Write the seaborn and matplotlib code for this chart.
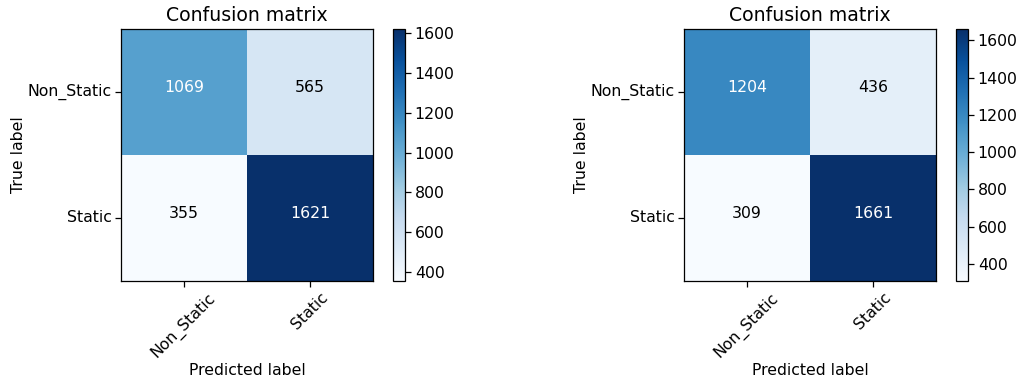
import numpy as np
import pandas as pd
import matplotlib
matplotlib.use("Agg")
import matplotlib.pyplot as plt
import seaborn as sns

classes = ["Non_Static", "Static"]
cm_left = [[1069, 565], [355, 1621]]
cm_right = [[1204, 436], [309, 1661]]
cbar_ticks = [400, 600, 800, 1000, 1200, 1400, 1600]

FS = 11.3
plt.rcParams['font.family'] = ['DejaVu Sans']
plt.rcParams['font.size'] = FS

fig = plt.figure(figsize=(10.21, 3.83), dpi=100)
W, H = 1021, 383

def px(x0, y0, x1, y1):
    return [x0 / W, 1 - y1 / H, (x1 - x0) / W, (y1 - y0) / H]

layouts = [
    (px(121, 29, 373, 281), px(393, 29, 405, 281), cm_left),
    (px(684, 29, 936, 281), px(956, 29, 968, 281), cm_right),
]

for ax_pos, cb_pos, cm in layouts:
    ax = fig.add_axes(ax_pos)
    cax = fig.add_axes(cb_pos)
    df = pd.DataFrame(cm, index=classes, columns=classes)
    arr = np.array(cm)
    sns.heatmap(df, ax=ax, cbar_ax=cax, cmap="Blues", annot=True, fmt="d",
                annot_kws={"fontsize": FS}, square=False,
                vmin=arr.min(), vmax=arr.max(), linewidths=0)
    thresh = arr.max() / 2.0
    for t in ax.texts:
        v = int(t.get_text())
        t.set_color("white" if v > thresh else "black")
        t.set_va("baseline")
    for s in ax.spines.values():
        s.set_visible(True)
        s.set_linewidth(0.9)
        s.set_color("black")
    ax.set_title("Confusion matrix", fontsize=13.6, pad=6)
    ax.set_xlabel("Predicted label", fontsize=FS, labelpad=1.5)
    ax.set_ylabel("True label", fontsize=FS, labelpad=1)
    ax.set_xticklabels(classes, rotation=45, ha="center", fontsize=FS)
    ax.set_yticklabels(classes, rotation=0, fontsize=FS)
    ax.tick_params(axis="both", length=4, width=0.9, direction="out", pad=2.5)
    cb = ax.collections[0].colorbar
    cb.set_ticks(cbar_ticks)
    cb.outline.set_visible(True)
    cb.outline.set_linewidth(0.9)
    cb.outline.set_edgecolor("black")
    cax.tick_params(labelsize=FS, length=4, width=0.9, pad=3)

fig.savefig("out.png", dpi=100)
